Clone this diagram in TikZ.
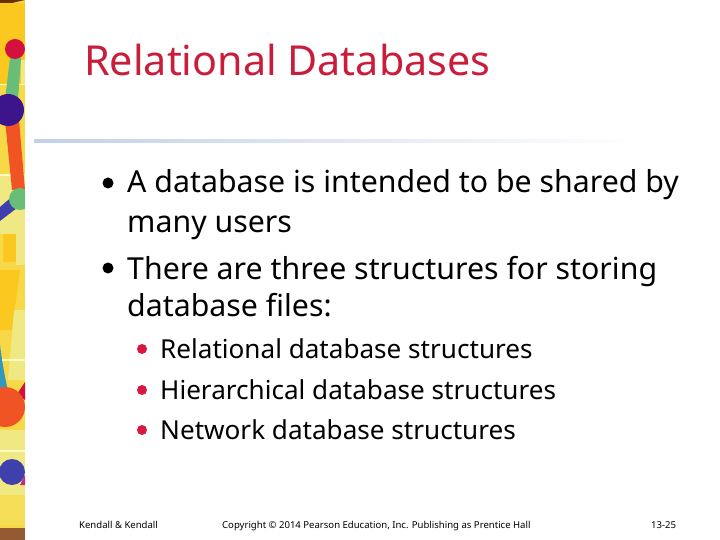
\documentclass[tikz,border=0pt]{standalone}
\usepackage{fontspec}
\setmainfont{Noto Sans}
\definecolor{titlered}{RGB}{200,30,60}
\definecolor{rulecol}{RGB}{194,208,234}
\definecolor{rulemid}{RGB}{226,236,242}
\definecolor{bulletred}{RGB}{216,24,64}
\definecolor{stripyellow}{RGB}{247,216,70}
\definecolor{palegold}{RGB}{240,232,130}
\definecolor{deepgold}{RGB}{250,200,30}
\definecolor{dotred}{RGB}{212,16,60}
\definecolor{dotpurple}{RGB}{60,20,140}
\definecolor{dotgreen}{RGB}{104,190,120}
\definecolor{dotorange}{RGB}{240,84,36}
\definecolor{dotblue}{RGB}{64,64,172}
\definecolor{stripteal}{RGB}{50,150,190}
\definecolor{stripbrown}{RGB}{150,90,50}
\tikzset{
  bodytext/.style={anchor=base west,inner sep=0pt,font=\fontsize{30.3}{30.3}\selectfont},
  subtext/.style={anchor=base west,inner sep=0pt,font=\fontsize{26.1}{26.1}\selectfont},
  foottext/.style={anchor=base west,inner sep=0pt,font=\fontsize{9.55}{9.55}\selectfont},
  bodybullet/.style={circle,fill=black,inner sep=0pt,minimum size=11},
  subbullet/.style={circle,fill=bulletred,inner sep=0pt,minimum size=10},
  crackline/.style={fill=white!75!yellow},
}
\begin{document}
\begin{tikzpicture}[x=1pt,y=-1pt]
\useasboundingbox (0,0) rectangle (720,540);
% painted strip
\begin{scope}
\clip (0,0) rectangle (25,540);
\fill[stripyellow] (0,0) rectangle (25,540);
\fill[deepgold] (0,3) rectangle (25,84);
\fill[palegold] (21,60) rectangle (25,84);
\fill[palegold] (0,176) rectangle (25,234);
\fill[deepgold] (3,234) rectangle (16,262);
\fill[palegold] (16,205) rectangle (25,265);
\fill[deepgold] (0,270) -- (20,270) -- (12,330) -- (0,330) -- cycle;
\fill[palegold] (14,310) -- (25,310) -- (25,380) -- (8,380) -- cycle;
\fill[palegold] (0,430) rectangle (25,525);
\fill[stripyellow!70!palegold] (0,495) rectangle (25,525);
\fill[black!60!orange] (0,0) -- (25,0) -- (12,3) -- (0,3) -- cycle;
\fill[crackline] (0,84) rectangle (25,85.5);
\fill[crackline] (0,174.5) rectangle (25,176);
\fill[crackline] (0,359) rectangle (25,360.5);
\fill[crackline] (0,450) rectangle (25,451.5);
\fill[stripbrown] (0,528) rectangle (25,540);
\fill[dotgreen] (10,58) -- (21,58) -- (18,100) -- (5,100) -- cycle;
\fill[dotorange] (5,120) -- (19,120) -- (25,190) -- (12,190) -- cycle;
\fill[dotblue] (0,207) -- (14,195) -- (17,208) -- (0,221) -- cycle;
\fill[stripteal] (0,345) .. controls (3,370) and (7,385) .. (8,392) -- (0,392) -- cycle;
\fill[dotred] (25,382) -- (17,394) -- (25,400) -- cycle;
\fill[magenta!60!violet] (25,475) -- (20,485) -- (25,485) -- cycle;
\fill[dotred] (15,49) circle [radius=10];
\fill[dotpurple] (8,110) circle [radius=16];
\fill[dotgreen] (20,199) circle [radius=11];
\fill[dotorange] (5,407) circle [radius=20];
\fill[dotblue] (12,472) circle [radius=13];
\end{scope}
% title and rule
\node[anchor=base west,inner sep=0pt,text=titlered,font=\fontsize{41.3}{41.3}\selectfont] (title) at (84,76) {Relational Databases};
\shade[left color=rulecol,middle color=rulemid,right color=white] (34,139.5) rectangle (640,142.5);
% body
\node[bodybullet] (bulletA) at (108,183) {};
\node[bodytext] (lineA) at (127,193) {A database is intended to be shared by};
\node[bodytext] (lineB) at (127,233) {many users};
\node[bodybullet] (bulletB) at (108,268) {};
\node[bodytext] (lineC) at (127,279) {There are three structures for storing};
\node[bodytext] (lineD) at (127,316) {database files:};
% sub items
\node[subbullet] (bulletC) at (142,349) {};
\node[subtext] (subA) at (160,358) {Relational database structures};
\node[subbullet] (bulletD) at (142,390) {};
\node[subtext] (subB) at (160,399) {Hierarchical database structures};
\node[subbullet] (bulletE) at (142,430) {};
\node[subtext] (subC) at (160,439) {Network database structures};
% footer
\node[foottext] (footA) at (79,528) {Kendall \& Kendall};
\node[foottext] (footB) at (222,528) {Copyright © 2014 Pearson Education, Inc. Publishing as Prentice Hall};
\node[foottext] (footC) at (651,528) {13-25};
\end{tikzpicture}
\end{document}
